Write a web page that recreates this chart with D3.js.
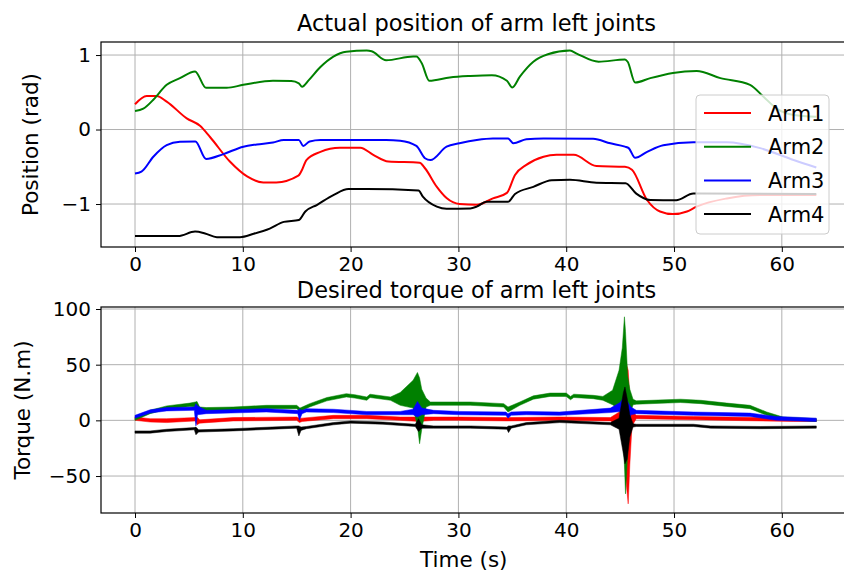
<!DOCTYPE html>
<html><head><meta charset="utf-8">
<script src="https://cdn.jsdelivr.net/npm/d3@7"></script>
<style>
body{margin:0;background:#fff;}
text{font-family:"DejaVu Sans",sans-serif;fill:#000;}
</style></head>
<body><svg id="c" width="844" height="574"></svg>
<script>
// ---------- DATA ----------
const seriesNames = ["Arm1","Arm2","Arm3","Arm4"];
const seriesColors = ["#ff0000","#008000","#0000ff","#000000"];
const xTicks = [0,10,20,30,40,50,60];
const posTicks = [-1,0,1];
const torqueTicks = [-50,0,50,100];

// Actual position [time s, rad]
const posArm1 = [[0,0.34],[1.08,0.45],[2.0,0.45],[2.94,0.375],[4.8,0.15],[6.03,0.05],[6.96,-0.10],[8.8,-0.43],[10.4,-0.63],[11.9,-0.71],[13.1,-0.71],[15.15,-0.62],[15.5,-0.54],[15.9,-0.41],[17.2,-0.30],[19.0,-0.245],[20.9,-0.245],[22.1,-0.34],[23.5,-0.43],[26.4,-0.445],[26.9,-0.52],[28.0,-0.77],[28.9,-0.92],[30.1,-1.0],[31.7,-1.01],[33.2,-0.925],[34.5,-0.85],[35.25,-0.61],[36.3,-0.475],[37.9,-0.365],[39.1,-0.34],[40.7,-0.34],[42.8,-0.49],[45.45,-0.50],[46.1,-0.54],[47.5,-0.946],[48.7,-1.10],[49.9,-1.135],[51.2,-1.10],[52.1,-1.035],[54.9,-0.925],[58.0,-0.88],[63.2,-0.88]];
const posArm2 = [[0,0.25],[0.77,0.28],[1.7,0.40],[2.94,0.60],[4.17,0.69],[5.57,0.78],[6.59,0.56],[8.5,0.56],[10.05,0.60],[12.8,0.655],[14.5,0.65],[15.2,0.62],[15.5,0.575],[16.1,0.66],[17.2,0.84],[18.4,0.98],[19.6,1.045],[21.5,1.06],[21.95,1.05],[23.3,0.93],[25.8,0.98],[26.1,0.98],[26.6,0.89],[27.3,0.655],[29.2,0.70],[31.1,0.72],[33.1,0.73],[34.5,0.655],[35.0,0.565],[35.7,0.71],[36.95,0.91],[38.3,1.01],[40.35,1.06],[40.97,1.02],[43.0,0.91],[45.45,0.94],[45.7,0.91],[46.4,0.63],[47.8,0.69],[49.9,0.76],[52.1,0.785],[54.3,0.69],[57.05,0.60],[58.3,0.44],[59.5,0.285],[61.1,0.195],[63.2,0.17]];
const posArm3 = [[0,-0.59],[0.6,-0.565],[1.7,-0.365],[2.94,-0.21],[4.17,-0.165],[5.6,-0.16],[6.59,-0.395],[8.2,-0.33],[10.05,-0.23],[11.3,-0.20],[12.8,-0.175],[13.8,-0.14],[15.2,-0.14],[15.6,-0.22],[16.2,-0.16],[17.2,-0.14],[23.3,-0.14],[24.6,-0.15],[26.1,-0.22],[26.9,-0.385],[27.4,-0.41],[28.9,-0.23],[30.1,-0.185],[31.7,-0.14],[33.2,-0.12],[34.6,-0.12],[35.1,-0.185],[36.3,-0.13],[37.9,-0.12],[42.5,-0.125],[44.1,-0.185],[45.45,-0.23],[45.8,-0.25],[46.4,-0.38],[47.5,-0.30],[49.0,-0.21],[51.8,-0.17],[54.9,-0.17],[58.0,-0.25],[61.1,-0.41],[63.2,-0.51]];
const posArm4 = [[0,-1.43],[4.0,-1.43],[5.57,-1.37],[6.5,-1.395],[7.6,-1.445],[9.74,-1.445],[11.0,-1.40],[12.5,-1.33],[13.8,-1.24],[15.2,-1.215],[15.8,-1.10],[16.9,-1.01],[18.4,-0.88],[19.8,-0.80],[21.5,-0.80],[26.3,-0.82],[26.7,-0.90],[28.0,-1.035],[28.9,-1.065],[31.1,-1.06],[31.7,-1.035],[32.6,-0.97],[34.6,-0.97],[35.25,-0.865],[36.95,-0.77],[38.65,-0.68],[40.35,-0.675],[42.8,-0.715],[45.5,-0.72],[46.5,-0.86],[47.8,-0.946],[50.2,-0.95],[51.8,-0.86],[52.4,-0.86],[63.2,-0.865]];

// Desired torque envelope [time s, low N.m, high N.m]
const torqueArm1 = [[0,0,3],[1.4,-1.5,1.5],[2.94,-2,1.5],[5.6,-0.5,2.5],[5.75,-4,3],[6.0,-2.5,0.5],[9.1,-0.5,2.5],[15.0,0,3],[15.25,-2,2],[15.5,-1,2],[18.4,1.5,4.5],[21.5,1.5,4.5],[24.6,0,3],[26.4,-1,3],[27.7,0,3],[30.1,0,3],[34.5,-0.5,2.5],[39.4,0,3],[44.1,-0.5,2.5],[45.0,-5,8],[45.4,-30,30],[45.6,-60,50],[45.75,-75,45],[45.9,-40,20],[46.1,-5,8],[46.5,1.5,4.5],[51.8,0.5,3.5],[58,-0.5,2.5],[61.1,-1,1.5],[63.2,-1,1]];
const torqueArm2 = [[0,0,2],[1.4,6,9],[2.94,10,13],[5.1,12.5,15.5],[5.6,12,16.5],[5.75,8,17],[6.0,9,12],[6.6,8.5,11.5],[9.1,9,12],[12.2,10.5,13.5],[15.0,10.5,13.5],[15.3,8,11],[16.2,12,15],[17.8,17.5,20.5],[19.6,21,24],[20.4,20,23],[21.5,18,21],[21.8,20.5,23.5],[23.7,18,21],[24.6,13.5,25],[25.8,11,36],[26.2,-5,43],[26.4,-21,38],[26.6,-8,28],[27.0,12,20],[27.4,13.5,16.5],[31.1,13.5,16.5],[34.2,12,15],[34.6,7.5,12],[35.7,13.5,16.5],[36.95,19,22],[38.5,21.5,24.5],[40.0,21.5,24.5],[40.4,18.5,21.5],[40.7,20.5,23.5],[42.5,19.5,22.5],[43.4,18,21.5],[44.3,14,27],[44.9,10,45],[45.2,0,65],[45.4,-40,93],[45.5,-66,80],[45.7,-30,40],[45.9,5,28],[46.2,14,19],[46.5,14.5,17.5],[50.6,16,19],[52.5,15,18],[54.9,12.5,15.5],[57.05,10.5,13.5],[58.6,4.5,7.5],[60.1,0.5,3],[63.2,-1,1.5]];
const torqueArm3 = [[0,2,4.5],[1.4,6.5,9.5],[2.94,8.5,11.5],[5.5,9,12],[5.65,-5,15],[5.8,5,13],[6.6,6,9],[12.2,7.5,10.5],[15.1,6,9],[15.25,0,10],[15.5,6,9],[15.9,7.5,10.5],[18.4,7,10],[21.5,5,8],[24.6,5,8],[25.8,5,10],[26.2,3,17],[26.6,5,11],[27.7,6,9],[30.1,5,8],[34.4,4.5,7.5],[34.6,2,6],[34.9,4.5,7.5],[36.3,5,8],[39.4,4.5,7.5],[44.1,7,11],[45.0,8,16],[45.3,-10,20],[45.6,-15,18],[46.0,5,12],[46.5,6,9],[51.8,4.5,7.5],[57.05,3.5,6.5],[59.5,0,3.5],[63.2,-1,2]];
const torqueArm4 = [[0,-11.5,-9.5],[1.4,-11.5,-9.5],[2.94,-10,-8],[5.5,-8.5,-6.5],[5.65,-13,-6],[5.9,-10.5,-8.5],[9.1,-9.5,-7.5],[15.0,-7,-5],[15.2,-14,-5],[15.4,-9,-6],[15.9,-7.5,-5.5],[18.4,-4,-2],[20,-2.5,-0.5],[23,-3.5,-1.5],[26.0,-5.5,-3.5],[26.3,-10,1.5],[26.6,-7,-4],[27.7,-7,-5],[31.1,-7,-5],[34.5,-8,-6],[34.65,-11,-5],[34.9,-7,-5],[36.3,-4,-2],[39.4,-2,0],[44.1,-4,-2],[44.9,-8,2],[45.3,-30,25],[45.45,-39,30],[45.65,-35,20],[45.9,-15,5],[46.2,-6,-3],[46.5,-5.5,-3.5],[51.8,-5.5,-3.5],[53.4,-7,-5],[58,-7.5,-5.5],[63.2,-7,-5]];

const posData = [posArm1,posArm2,posArm3,posArm4];
const torqueData = [torqueArm1,torqueArm2,torqueArm3,torqueArm4];

// ---------- LAYOUT ----------
const svg = d3.select("#c");
const L = 101, R = 852;
const top1 = 42, bot1 = 247, top2 = 307, bot2 = 513;
const gridColor = "#b0b0b0";

const x = d3.scaleLinear().domain([-3.154, 66.51]).range([L, R]);
const y1 = d3.scaleLinear().domain([-1.577, 1.175]).range([bot1, top1]);
const y2 = d3.scaleLinear().domain([-83.2, 101.8]).range([bot2, top2]);

function panel(yScale, yT, yTop, yBot, id){
  const g = svg.append("g");
  svg.append("clipPath").attr("id", id).append("rect")
    .attr("x", L).attr("y", yTop).attr("width", R - L).attr("height", yBot - yTop);
  g.append("g").selectAll("line").data(xTicks).join("line")
    .attr("x1", d => x(d)).attr("x2", d => x(d)).attr("y1", yTop).attr("y2", yBot)
    .attr("stroke", gridColor).attr("stroke-width", 1);
  g.append("g").selectAll("line").data(yT).join("line")
    .attr("y1", d => yScale(d)).attr("y2", d => yScale(d)).attr("x1", L).attr("x2", R)
    .attr("stroke", gridColor).attr("stroke-width", 1);
  return g;
}

function axes(yScale, yT, yTop, yBot){
  const ax = svg.append("g");
  const xa = ax.append("g").attr("transform", `translate(0,${yBot})`)
    .call(d3.axisBottom(x).tickValues(xTicks).tickSize(5).tickPadding(5).tickFormat(d3.format("d")));
  const ya = ax.append("g").attr("transform", `translate(${L},0)`)
    .call(d3.axisLeft(yScale).tickValues(yT).tickSize(5).tickPadding(5)
      .tickFormat(d => d < 0 ? "\u2212" + Math.abs(d) : String(d)));
  [xa, ya].forEach(a => {
    a.select(".domain").remove();
    a.selectAll("line").attr("stroke", "#000").attr("stroke-width", 1);
    a.selectAll("text").attr("font-size", 20).attr("font-family", "DejaVu Sans").attr("fill", "#000");
  });
  ax.append("rect").attr("x", L).attr("y", yTop).attr("width", R - L).attr("height", yBot - yTop)
    .attr("fill", "none").attr("stroke", "#000").attr("stroke-width", 1.2);
}

// ---------- TOP PANEL ----------
const g1 = panel(y1, posTicks, top1, bot1, "clip1");
const line1 = d3.line().x(d => x(d[0])).y(d => y1(d[1])).curve(d3.curveMonotoneX);
const plot1 = g1.append("g").attr("clip-path", "url(#clip1)");
posData.forEach((s, i) => {
  plot1.append("path").datum(s).attr("d", line1).attr("fill", "none")
    .attr("stroke", seriesColors[i]).attr("stroke-width", 2).attr("stroke-linejoin", "round");
});
axes(y1, posTicks, top1, bot1);

// ---------- BOTTOM PANEL ----------
const g2 = panel(y2, torqueTicks, top2, bot2, "clip2");
const area2 = d3.area().x(d => x(d[0])).y0(d => y2(d[1])).y1(d => y2(d[2]));
const plot2 = g2.append("g").attr("clip-path", "url(#clip2)");
torqueData.forEach((s, i) => {
  plot2.append("path").datum(s).attr("d", area2)
    .attr("fill", seriesColors[i]).attr("stroke", seriesColors[i]).attr("stroke-width", 0.5)
    .attr("stroke-linejoin", "round");
});
axes(y2, torqueTicks, top2, bot2);

// ---------- TEXT ----------
svg.append("text").attr("x", (L + R) / 2).attr("y", 31).attr("text-anchor", "middle")
  .attr("font-size", 22.5).text("Actual position of arm left joints");
svg.append("text").attr("x", (L + R) / 2).attr("y", 298).attr("text-anchor", "middle")
  .attr("font-size", 22.5).text("Desired torque of arm left joints");
svg.append("text").attr("transform", `translate(38,${(top1 + bot1) / 2}) rotate(-90)`)
  .attr("text-anchor", "middle").attr("font-size", 21.5).text("Position (rad)");
svg.append("text").attr("transform", `translate(30,${(top2 + bot2) / 2}) rotate(-90)`)
  .attr("text-anchor", "middle").attr("font-size", 21.5).text("Torque (N.m)");
svg.append("text").attr("x", x(30.5)).attr("y", 567).attr("text-anchor", "middle")
  .attr("font-size", 21.5).text("Time (s)");

// ---------- LEGEND ----------
const lg = svg.append("g").attr("transform", "translate(696,95)");
lg.append("rect").attr("width", 133).attr("height", 139).attr("rx", 4)
  .attr("fill", "#fff").attr("fill-opacity", 0.8).attr("stroke", "#cccccc").attr("stroke-width", 1);
seriesNames.forEach((n, i) => {
  const yy = 18 + i * 33.7;
  lg.append("line").attr("x1", 8).attr("x2", 55).attr("y1", yy).attr("y2", yy)
    .attr("stroke", seriesColors[i]).attr("stroke-width", 2);
  lg.append("text").attr("x", 72).attr("y", yy + 7.5).attr("font-size", 21).text(n);
});
</script></body></html>
